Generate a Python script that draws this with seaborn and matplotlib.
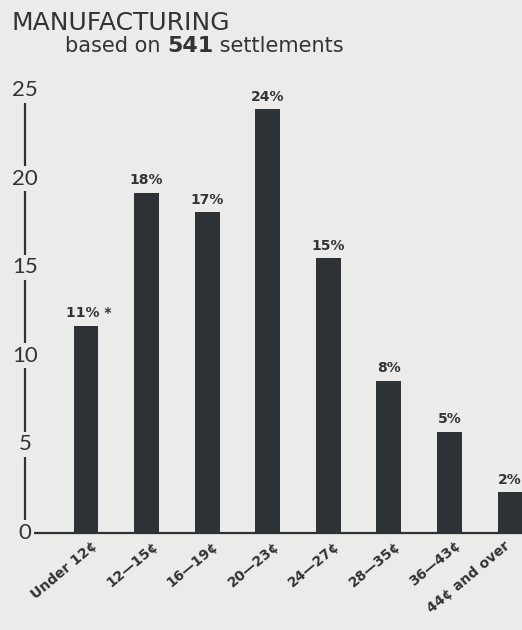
"""
Manufacturing settlements by cents-per-hour increase, bar chart
"""
import pandas as pd
import matplotlib.pyplot as plt
import matplotlib.transforms as mtransforms
import seaborn as sns

# Values (bar heights as drawn), with the printed labels
categories = ["Under 12¢", "12—15¢", "16—19¢", "20—23¢", "24—27¢", "28—35¢", "36—43¢", "44¢ and over"]
heights = [11.7, 19.2, 18.1, 23.9, 15.5, 8.6, 5.7, 2.3]
pct_labels = ["11% *", "18%", "17%", "24%", "15%", "8%", "5%", "2%"]
y_ticks = [0, 5, 10, 15, 20, 25]

df = pd.DataFrame({"cat": categories, "value": heights})

bg = "#ebebe9"
ink = "#2c3236"
txt = "#333333"

sns.set_theme(style="white")
plt.rcParams["font.family"] = ["DejaVu Sans"]

fig = plt.figure(figsize=(5.22, 6.3), dpi=100, facecolor=bg)
ax = fig.add_axes([25 / 522, 97 / 630, 497 / 522, 443 / 630])
ax.set_facecolor(bg)

sns.barplot(data=df, x="cat", y="value", color=ink, width=0.41, saturation=1,
            linewidth=0, ax=ax)

ax.set_xlim(-1.007, 7.198)
ax.set_ylim(0, 25)
ax.set_xlabel("")
ax.set_ylabel("")

# spines: left axis line interrupted by labels, baseline along zero
for s in ["top", "right"]:
    ax.spines[s].set_visible(False)
for s in ["left", "bottom"]:
    ax.spines[s].set_color(ink)
    ax.spines[s].set_linewidth(1.6)
ax.spines["bottom"].set_zorder(0.5)

ax.set_yticks([])
for t in y_ticks:
    ax.text(0, t, str(t), transform=ax.get_yaxis_transform(), ha="center", va="center",
            fontsize=16, color=txt, zorder=5, clip_on=False, family="Lato",
            bbox=dict(boxstyle="square,pad=0.12", fc=bg, ec="none"))

# percent labels above bars
for i, (h, lab) in enumerate(zip(heights, pct_labels)):
    ax.annotate(lab, (i, h), xytext=(2 if "*" in lab else 0, 4), textcoords="offset points",
                ha="center", va="bottom", fontsize=10, fontweight="bold", color=txt)

# rotated category labels
ax.set_xticks(range(len(categories)))
ax.set_xticklabels(categories, rotation=40, ha="right", rotation_mode="anchor",
                   fontsize=10, fontweight="bold", color=txt)
ax.tick_params(axis="x", length=0, pad=4)
for i, lab in enumerate(ax.get_xticklabels()):
    dx = 5 if i < len(categories) - 1 else -6
    shift = mtransforms.ScaledTranslation(dx / 100, 0, fig.dpi_scale_trans)
    lab.set_transform(lab.get_transform() + shift)

# titles
fig.text(12 / 522, 1 - 30 / 630, "MANUFACTURING", fontsize=18, color=txt, va="baseline")
t1 = fig.text(65 / 522, 1 - 56 / 630, "based on ", fontsize=15, color=txt, va="bottom")
t2 = ax.annotate("541", xy=(1, 0), xycoords=t1, va="bottom", fontsize=16,
                 fontweight="bold", color=txt)
ax.annotate(" settlements", xy=(1, 0), xycoords=t2, va="bottom", fontsize=15, color=txt)

fig.savefig("out.png", dpi=100, facecolor=bg)
